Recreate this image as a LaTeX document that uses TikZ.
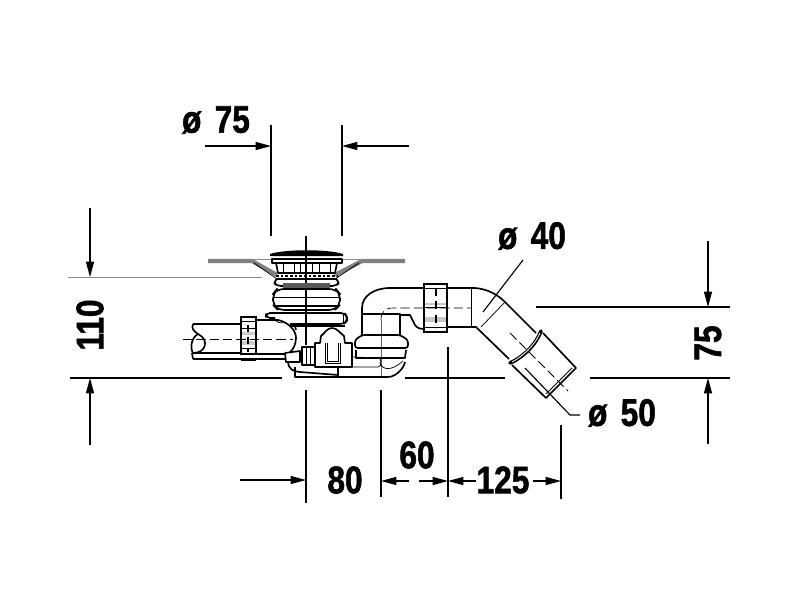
\documentclass[tikz,border=0pt]{standalone}
\usepackage{fontspec}
\setmainfont{Liberation Sans}
\newfontface\dimface{Liberation Sans Bold}[FakeBold=1.6]
\newcommand{\dimfont}{\dimface\fontsize{25}{25}\selectfont\spaceskip=0.42em\relax}
\usepackage{xcolor}
\usetikzlibrary{arrows.meta,positioning}

\begin{document}
\begin{tikzpicture}[
    x=0.75pt, y=-0.75pt,
    dimline/.style={line width=0.85pt, -{Triangle[length=11.5pt, width=6pt]}},
    extline/.style={line width=0.85pt},
    outline/.style={line width=1.25pt, line join=round},
    thinline/.style={line width=0.55pt},
    centre/.style={line width=0.65pt, dash pattern=on 7pt off 3pt},
    plate/.style={line width=3.2pt, draw=black!50},
    dimlabel/.style={inner sep=0pt, xscale=0.95, yscale=1.15, font=\dimfont}
]
    \useasboundingbox (0,0) rectangle (800,600);

    % dimension labels
    \node[dimlabel] (dia75) at (216,120) {ø 75};
    \node[dimlabel] (dia40) at (532,236) {ø 40};
    \node[dimlabel] (dia50) at (622,413) {ø 50};
    \node[rotate=90, dimlabel] (h110) at (90,325) {110};
    \node[rotate=90, dimlabel] (h75) at (708,343) {75};
    \node[dimlabel] (w80) at (345,480) {80};
    \node[dimlabel] (w60) at (417,455) {60};
    \node[dimlabel] (w125) at (503,480) {125};

    % extension lines
    \draw[extline] (271,125) -- (271,236);
    \draw[extline] (342,125) -- (342,236);
    \draw[extline] (70,378) -- (282,378);
    \draw[extline] (405,378) -- (505,378);
    \draw[extline] (590,378) -- (730,378);
    \draw[extline] (536,307) -- (730,307);
    \draw[line width=0.6pt, black!45] (68,277) -- (262,277);
    \draw[extline] (306,390) -- (306,503);
    \draw[extline] (381,390) -- (381,497);
    \draw[extline] (448,347) -- (448,497);
    \draw[extline] (561,425) -- (561,499);

    % dimension arrows
    \draw[dimline] (205,146) -- (271,146);
    \draw[dimline] (409,146) -- (342,146);
    \draw[dimline] (90,208) -- (90,277);
    \draw[dimline] (90,445) -- (90,378);
    \draw[dimline] (708,241) -- (708,307);
    \draw[dimline] (708,444) -- (708,378);
    \draw[dimline] (240,480) -- (306,480);
    \draw[dimline] (409,481) -- (381,481);
    \draw[dimline] (419,481) -- (448,481);
    \draw[dimline] (476,481) -- (448,481);
    \draw[dimline] (533,481) -- (561,481);

    % leaders
    \draw[extline] (523,260) -- (483,312);
    \draw[extline] (525,368) -- (570,415) -- (580,415);

    % centre lines
    \draw[extline] (306,236) -- (306,345);
    \draw[centre] (183,339) -- (293,339);
    \draw[thinline, black!60] (381,320) -- (381,378);
    \draw[centre, line width=0.5pt] (381,320) .. controls (381,312) and (385,308) .. (393,308) -- (471,308);
    \draw[centre] (510,333) -- (568,391);

    % deck plate
    \draw[plate] (208,261) -- (252,261) -- (277,275);
    \draw[plate] (405,261) -- (362,261) -- (335,275);
    \draw[thinline, black!45] (252,259) -- (362,259);
    \draw[thinline] (254,263) -- (277,279);
    \draw[thinline] (359,263) -- (335,279);

    % plug head
    \fill (270,254) .. controls (285,249) and (328,249) .. (343,254) -- (343,256) -- (270,256) -- cycle;
    \draw[outline] (272,259) rectangle (342,263);
    \draw[outline] (276,263) -- (278,273) -- (335,273) -- (337,263);
    \draw[thinline] (283,264) -- (283,272) (294,264) -- (294,272) (300,264) -- (300,272)
        (312,264) -- (312,272) (319,264) -- (319,272) (330,264) -- (330,272);
    \draw[line width=1.6pt, dash pattern=on 2pt off 1.5pt] (276,276) -- (338,276);
    \draw[outline] (276,279) -- (337,279);

    % body under the plate
    \draw[outline, rounded corners=3pt] (277,279) -- (273,282) -- (277,286) -- (336,286) -- (340,282) -- (336,279);
    \fill[black!65] (283,283) rectangle (330,288);
    \draw[outline, rounded corners=5pt] (277,289) -- (273,294) -- (273,305) -- (278,310) -- (335,310) -- (340,305) -- (340,294) -- (336,289) -- cycle;
    \draw[thinline] (274,297) -- (339,297);
    \draw[outline] (275,306) -- (338,306);
    \draw[outline, rounded corners=3pt] (273,313) -- (266,313) -- (266,318) -- (275,318);
    \draw[outline, rounded corners=3pt] (271,313) -- (345,313) -- (347,317) -- (347,321) -- (344,324) -- (290,324);
    \draw[thinline] (343,313) -- (343,324);
    \draw[outline] (290,326) -- (345,326);
    \draw[outline] (295,326) -- (296,330);

    % left pipe and nut
    \draw[outline] (193,324) -- (241,324);
    \draw[outline] (193,353) -- (241,353);
    \draw[outline] (193,359) -- (285,359);
    \draw[outline] (193,324) .. controls (191,329) and (194,331) .. (198,334) .. controls (209,339) and (207,353) .. (193,353) .. controls (190,348) and (191,338) .. (198,334);
    \draw[outline] (192,353) -- (193,359);
    \fill[black!20] (241,332) rectangle (256,335);
    \fill[black!20] (241,341) rectangle (256,345);
    \draw[line width=1.4pt] (241,317) rectangle (256,354);
    \draw[thinline] (241,321) -- (256,321) (241,328) -- (256,328) (241,348) -- (256,348);
    \fill (241,358) rectangle (256,361);
    \draw[thick, dash pattern=on 5pt off 4pt] (248,325) -- (248,352);
    \draw[outline] (256,320) -- (278,320) .. controls (288,322) and (296,330) .. (296,338) .. controls (296,344) and (293,350) .. (290,352);
    \draw[outline] (256,354) -- (285,354);
    \draw[thinline] (275,320) .. controls (280,325) and (285,322) .. (284,322);

    % connector, ribs and cap
    \draw[outline, fill=white] (285,353) -- (300,351) -- (300,362) -- (286,362) -- cycle;
    \draw[outline, fill=white] (302,347) rectangle (315,365);
    \draw[thinline] (306,347) -- (306,365) (310,347) -- (310,365);
    \draw[outline, fill=white] (315,343) -- (320,343) -- (321,336) .. controls (325,333) and (327,328) .. (332,328) .. controls (337,328) and (340,333) .. (344,336) -- (345,343) -- (352,343) -- (352,367) -- (315,367) -- cycle;
    \draw[thinline] (325,343) -- (325,363) -- (340,363) -- (340,343);
    \draw[thinline] (327,343) -- (327,361) -- (338,361) -- (338,343);

    % trap body
    \draw[outline] (295,367) -- (295,377) -- (388,377) .. controls (396,377) and (404,368) .. (405,362);
    \draw[outline] (288,362) .. controls (288,368) and (293,372) .. (300,372) -- (338,375);
    \draw[outline] (338,367) -- (338,377);
    \draw[thinline] (352,357) -- (380,358);
    \draw[thinline] (352,367) -- (378,367) .. controls (383,367) and (380,358) .. (380,358);
    \draw[thinline] (380,362) .. controls (382,371) and (392,371) .. (403,361);

    % elbow collar
    \draw[outline, rounded corners=2pt] (362,335) -- (355,340) -- (355,348) -- (408,348) -- (408,340) -- (400,335) -- cycle;
    \draw[outline] (356,350) -- (356,358) -- (405,358) -- (406,350);

    % elbow and outlet
    \draw[outline] (362,335) -- (362,308) .. controls (362,296) and (374,288) .. (390,288) -- (424,288);
    \draw[outline] (362,314) -- (400,314) -- (400,335);
    \draw[outline] (400,315) -- (410,315) -- (415,325) .. controls (417,328) and (420,329) .. (424,329);
    \fill[black!22] (425,317) rectangle (446,322);
    \fill[black!22] (425,303) rectangle (446,305);
    \draw[line width=1.5pt] (424,284) rectangle (447,332);
    \draw[thinline] (425,288) -- (446,288) (425,307) -- (446,307) (425,327) -- (446,327);
    \draw[thick, dash pattern=on 6pt off 4pt] (436,288) -- (436,328);
    \draw[outline] (447,288) -- (475,288) .. controls (488,289) and (498,295) .. (505,302) -- (536,333);
    \draw[outline] (447,327) -- (476,327) -- (509,359);
    \draw[thinline] (471,288) -- (471,327);
    \draw[thinline] (481,327) -- (505,302);

    % sleeve with ring
    \draw[outline] (543,333) -- (576,368) -- (546,398) -- (512,365);
    \draw[line width=2.8pt, line cap=round] (541,331) .. controls (536,345) and (522,358) .. (510,363);
    \draw[line width=0.6pt, white] (540,333) .. controls (535,345) and (522,357) .. (512,362);
    \draw[thinline] (572,368) -- (546,394);
\end{tikzpicture}
\end{document}
